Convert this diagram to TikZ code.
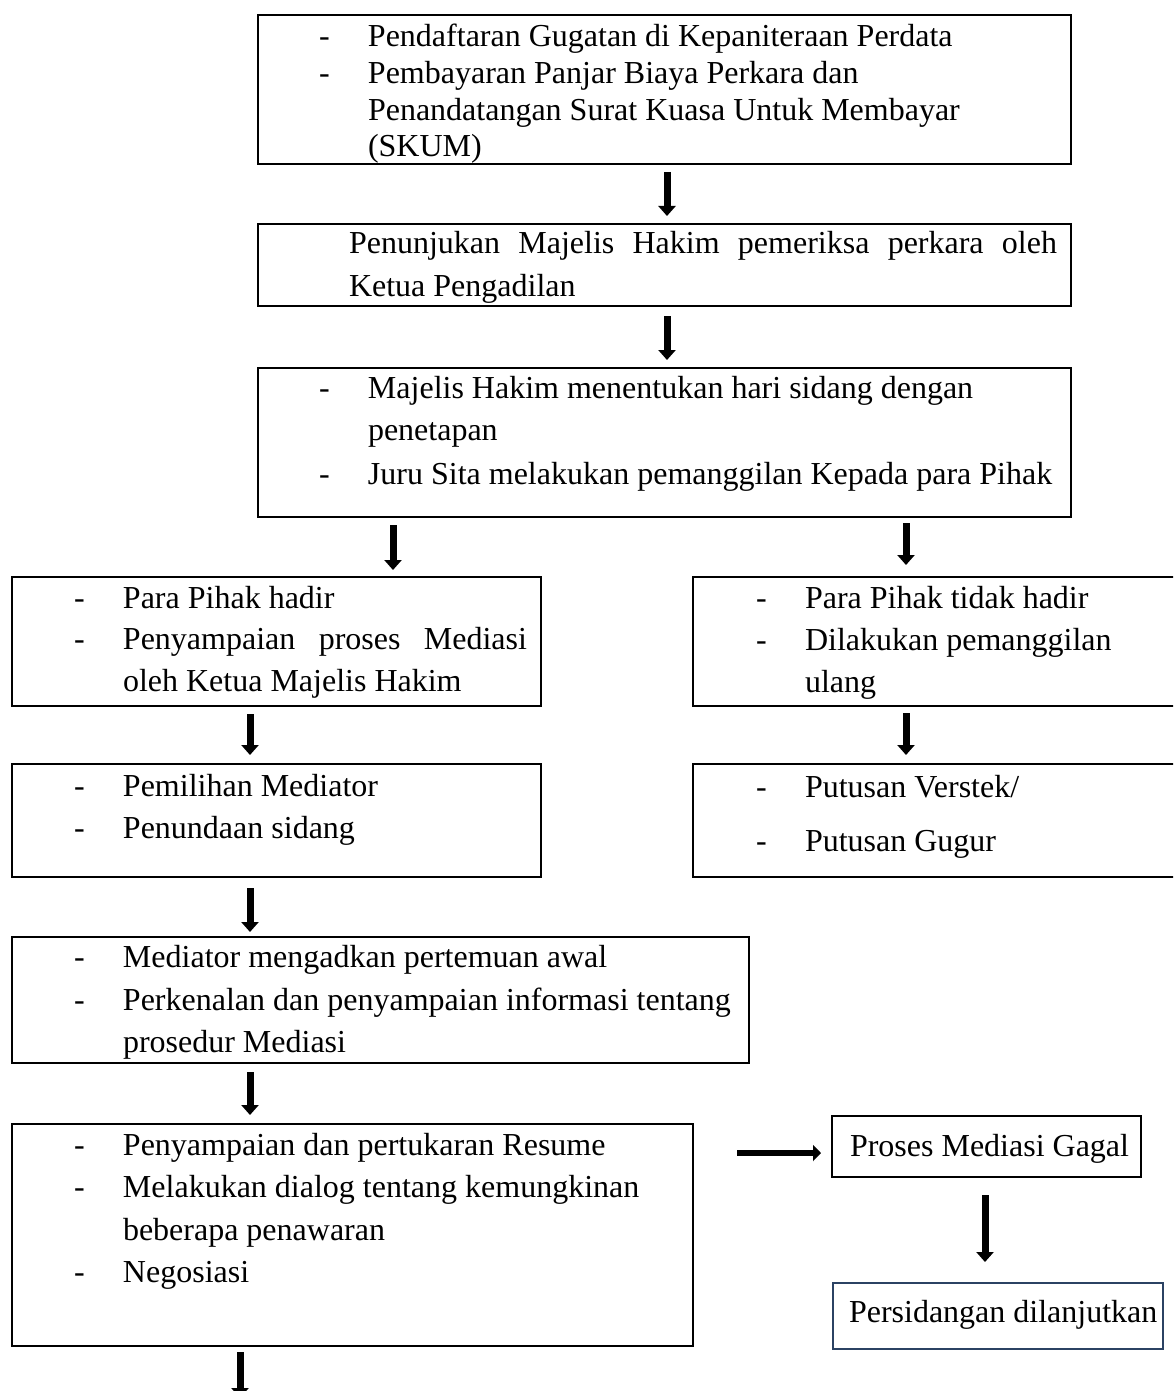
\documentclass[tikz,border=0pt]{standalone}
\usepackage{fontspec}
\setmainfont{Liberation Serif}
\usetikzlibrary{arrows.meta,fit}
\newcommand\dashitem{\makebox[24.5pt][l]{-}}
\definecolor{navyborder}{HTML}{2B4263}
\begin{document}
\begin{tikzpicture}[x=0.5pt,y=-0.5pt,
  box/.style={draw=black,line width=0.6pt,inner sep=0pt,outer sep=0pt,fit={#1}},
  thickbox/.style={draw=black,line width=1pt,inner sep=0pt,outer sep=0pt,fit={#1}},
  navybox/.style={draw=navyborder,line width=1.1pt,inner sep=0pt,outer sep=0pt,fit={#1}},
  txt/.style={anchor=base west,inner sep=0pt,outer sep=0pt,font=\fontsize{16pt}{18pt}\selectfont},
  bigarr/.style={line width=3.5pt,-{Triangle[length=5pt,width=8.5pt]}},
  harr/.style={line width=3pt,-{Triangle[length=4pt,width=8pt]}}
]
\clip (0,0) rectangle (1173,1391);
\fill[white] (0,0) rectangle (1173,1391);

% ---- boxes ----
\node[box={(258,15) (1071,164)}] (b1) {};
\node[box={(258,224) (1071,306)}] (b2) {};
\node[box={(258,368) (1071,517)}] (b3) {};
\node[box={(12,577) (541,706)}] (b4l) {};
\node[box={(693,577) (1185,706)}] (b4r) {};
\node[box={(12,764) (541,877)}] (b5l) {};
\node[box={(693,764) (1185,877)}] (b5r) {};
\node[box={(12,937) (749,1063)}] (b6) {};
\node[box={(12,1124) (693,1346)}] (b7) {};
\node[thickbox={(832,1116) (1141,1177)}] (b8) {};
\node[navybox={(833,1283) (1163,1349)}] (b9) {};

% ---- texts ----
\node[txt] (t1a) at (319,47) {\dashitem Pendaftaran Gugatan di Kepaniteraan Perdata};
\node[txt] (t1b) at (319,84) {\dashitem Pembayaran Panjar Biaya Perkara dan};
\node[txt] (t1c) at (368,120.5) {Penandatangan Surat Kuasa Untuk Membayar};
\node[txt] (t1d) at (368,157) {(SKUM)};

\node[txt] (t2a) at (349,254) {\makebox[354pt][s]{Penunjukan Majelis Hakim pemeriksa perkara oleh}};
\node[txt] (t2b) at (349,296) {Ketua Pengadilan};

\node[txt] (t3a) at (319,398) {\dashitem Majelis Hakim menentukan hari sidang dengan};
\node[txt] (t3b) at (368,440) {penetapan};
\node[txt] (t3c) at (319,484) {\dashitem Juru Sita melakukan pemanggilan Kepada para Pihak};

\node[txt] (t4a) at (74,608.5) {\dashitem Para Pihak hadir};
\node[txt] (t4b) at (74,649.5) {\dashitem \makebox[202pt][s]{Penyampaian proses Mediasi}};
\node[txt] (t4c) at (123,691.5) {oleh Ketua Majelis Hakim};

\node[txt] (t4d) at (756,608.5) {\dashitem Para Pihak tidak hadir};
\node[txt] (t4e) at (756,650.5) {\dashitem Dilakukan pemanggilan};
\node[txt] (t4f) at (805,692.5) {ulang};

\node[txt] (t5a) at (74,796.5) {\dashitem Pemilihan Mediator};
\node[txt] (t5b) at (74,838.5) {\dashitem Penundaan sidang};

\node[txt] (t5c) at (756,797) {\dashitem Putusan Verstek/};
\node[txt] (t5d) at (756,851) {\dashitem Putusan Gugur};

\node[txt] (t6a) at (74,967) {\dashitem Mediator mengadkan pertemuan awal};
\node[txt] (t6b) at (74,1010) {\dashitem Perkenalan dan penyampaian informasi tentang};
\node[txt] (t6c) at (123,1052) {prosedur Mediasi};

\node[txt] (t7a) at (74,1155.5) {\dashitem Penyampaian dan pertukaran Resume};
\node[txt] (t7b) at (74,1197.5) {\dashitem Melakukan dialog tentang kemungkinan};
\node[txt] (t7c) at (123,1240.5) {beberapa penawaran};
\node[txt] (t7d) at (74,1282.5) {\dashitem Negosiasi};

\node[txt] (t8) at (850,1156) {Proses Mediasi Gagal};
\node[txt] (t9) at (849,1322) {Persidangan dilanjutkan};

% ---- arrows ----
\coordinate (xa) at (667,0);
\coordinate (xl) at (393,0);
\coordinate (xr) at (906,0);
\coordinate (xm) at (250,0);
\coordinate (xg) at (985,0);
\coordinate (xb) at (240,0);
\coordinate (yh) at (0,1153);
\coordinate (endb) at (240,1398);

\draw[bigarr,shorten <=4pt,shorten >=4pt] (b1.south -| xa) -- (b2.north -| xa);
\draw[bigarr,shorten <=5pt,shorten >=4pt] (b2.south -| xa) -- (b3.north -| xa);
\draw[bigarr,shorten <=4pt,shorten >=3.5pt] (b3.south -| xl) -- (b4l.north -| xl);
\draw[bigarr,shorten <=3pt,shorten >=6pt] (b3.south -| xr) -- (b4r.north -| xr);
\draw[bigarr,shorten <=4pt,shorten >=4.5pt] (b4l.south -| xm) -- (b5l.north -| xm);
\draw[bigarr,shorten <=3.5pt,shorten >=4.5pt] (b4r.south -| xr) -- (b5r.north -| xr);
\draw[bigarr,shorten <=5.5pt,shorten >=2.5pt] (b5l.south -| xm) -- (b6.north -| xm);
\draw[bigarr,shorten <=4.5pt,shorten >=4.5pt] (b6.south -| xm) -- (b7.north -| xm);
\draw[harr,shorten <=22pt,shorten >=5.5pt] (b7.east |- yh) -- (b8.west |- yh);
\draw[bigarr,shorten <=9pt,shorten >=10.5pt] (b8.south -| xg) -- (b9.north -| xg);
\draw[bigarr,shorten <=3pt] (b7.south -| xb) -- (endb);
\end{tikzpicture}
\end{document}
